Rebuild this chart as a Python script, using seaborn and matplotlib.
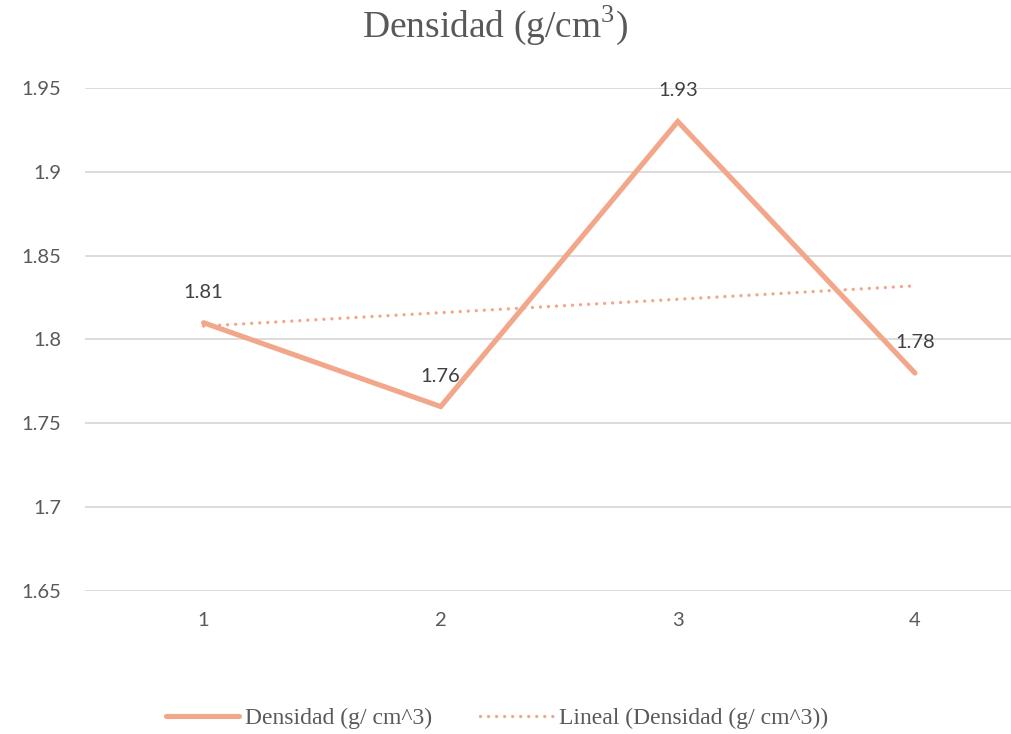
import numpy as np
import pandas as pd
import matplotlib
matplotlib.use("Agg")
import matplotlib.pyplot as plt
import seaborn as sns

# Sample numbers and measured density (g/cm^3)
muestras = [1, 2, 3, 4]
densidad = [1.81, 1.76, 1.93, 1.78]
y_ticks = [1.65, 1.7, 1.75, 1.8, 1.85, 1.9, 1.95]
y_tick_labels = ["1.65", "1.7", "1.75", "1.8", "1.85", "1.9", "1.95"]
titulo = r"Densidad (g/cm$^{\mathrm{3}}$)"
serie = "Densidad (g/ cm^3)"
tendencia = "Lineal (Densidad (g/ cm^3))"

df = pd.DataFrame({"muestra": muestras, "densidad": densidad})

sns.set_style("white")
plt.rcParams["font.family"] = ["Lato", "DejaVu Sans"]
plt.rcParams["mathtext.fontset"] = "custom"
plt.rcParams["mathtext.rm"] = "Liberation Serif"

color = "#F2A68A"
grid_color = "#D9D9D9"
label_gray = "#595959"

fig = plt.figure(figsize=(10.11, 7.34), dpi=100)
ax = fig.add_axes([85 / 1011, 1 - 591 / 734, 948.5 / 1011, 503 / 734])

sns.lineplot(data=df, x="muestra", y="densidad", ax=ax, color=color,
             linewidth=3.7, solid_capstyle="round", solid_joinstyle="miter",
             legend=False, zorder=3)
serie_line = ax.lines[-1]
serie_line.set_label(serie)

# least-squares trend line over the sample range
sns.regplot(data=df, x="muestra", y="densidad", ax=ax, scatter=False, ci=None,
            truncate=True, color=color,
            line_kws=dict(linewidth=2.4, linestyle=(0, (0.01, 2.4)),
                          dash_capstyle="round", zorder=4))
trend_line = ax.lines[-1]
trend_line.set_label(tendencia)

# value labels above each point
for xv, yv in zip(muestras, densidad):
    ax.annotate(f"{yv:.2f}", (xv, yv), xytext=(0, 22), textcoords="offset points",
                ha="center", va="center", fontsize=14.5, color="#404040")

ax.set_xlim(0.5, 4.5)
ax.set_ylim(1.65, 1.95)
ax.set_xticks(muestras)
ax.set_xticklabels([str(m) for m in muestras])
ax.set_yticks(y_ticks)
ax.set_yticklabels(y_tick_labels)
ax.set_xlabel("")
ax.set_ylabel("")
ax.tick_params(axis="both", length=0, labelsize=14.5, labelcolor=label_gray)
ax.tick_params(axis="y", pad=17)
ax.tick_params(axis="x", pad=15)
ax.yaxis.grid(True, color=grid_color, linewidth=1.3)
ax.xaxis.grid(False)
for s in ax.spines.values():
    s.set_visible(False)

fig.text(495 / 1011, 1 - 25 / 734, titulo, ha="center", va="center",
         fontsize=27, color=label_gray, family=["Liberation Serif", "DejaVu Serif"])

fig.legend([serie_line, trend_line], [serie, tendencia], loc="center",
           bbox_to_anchor=(497 / 1011, 1 - 718 / 734),
           ncol=2, frameon=False, handlelength=3.1, handletextpad=0.25,
           columnspacing=2.0,
           prop=dict(family=["Liberation Serif", "DejaVu Serif"], size=17),
           labelcolor=label_gray)

fig.savefig("out.png", dpi=100)
